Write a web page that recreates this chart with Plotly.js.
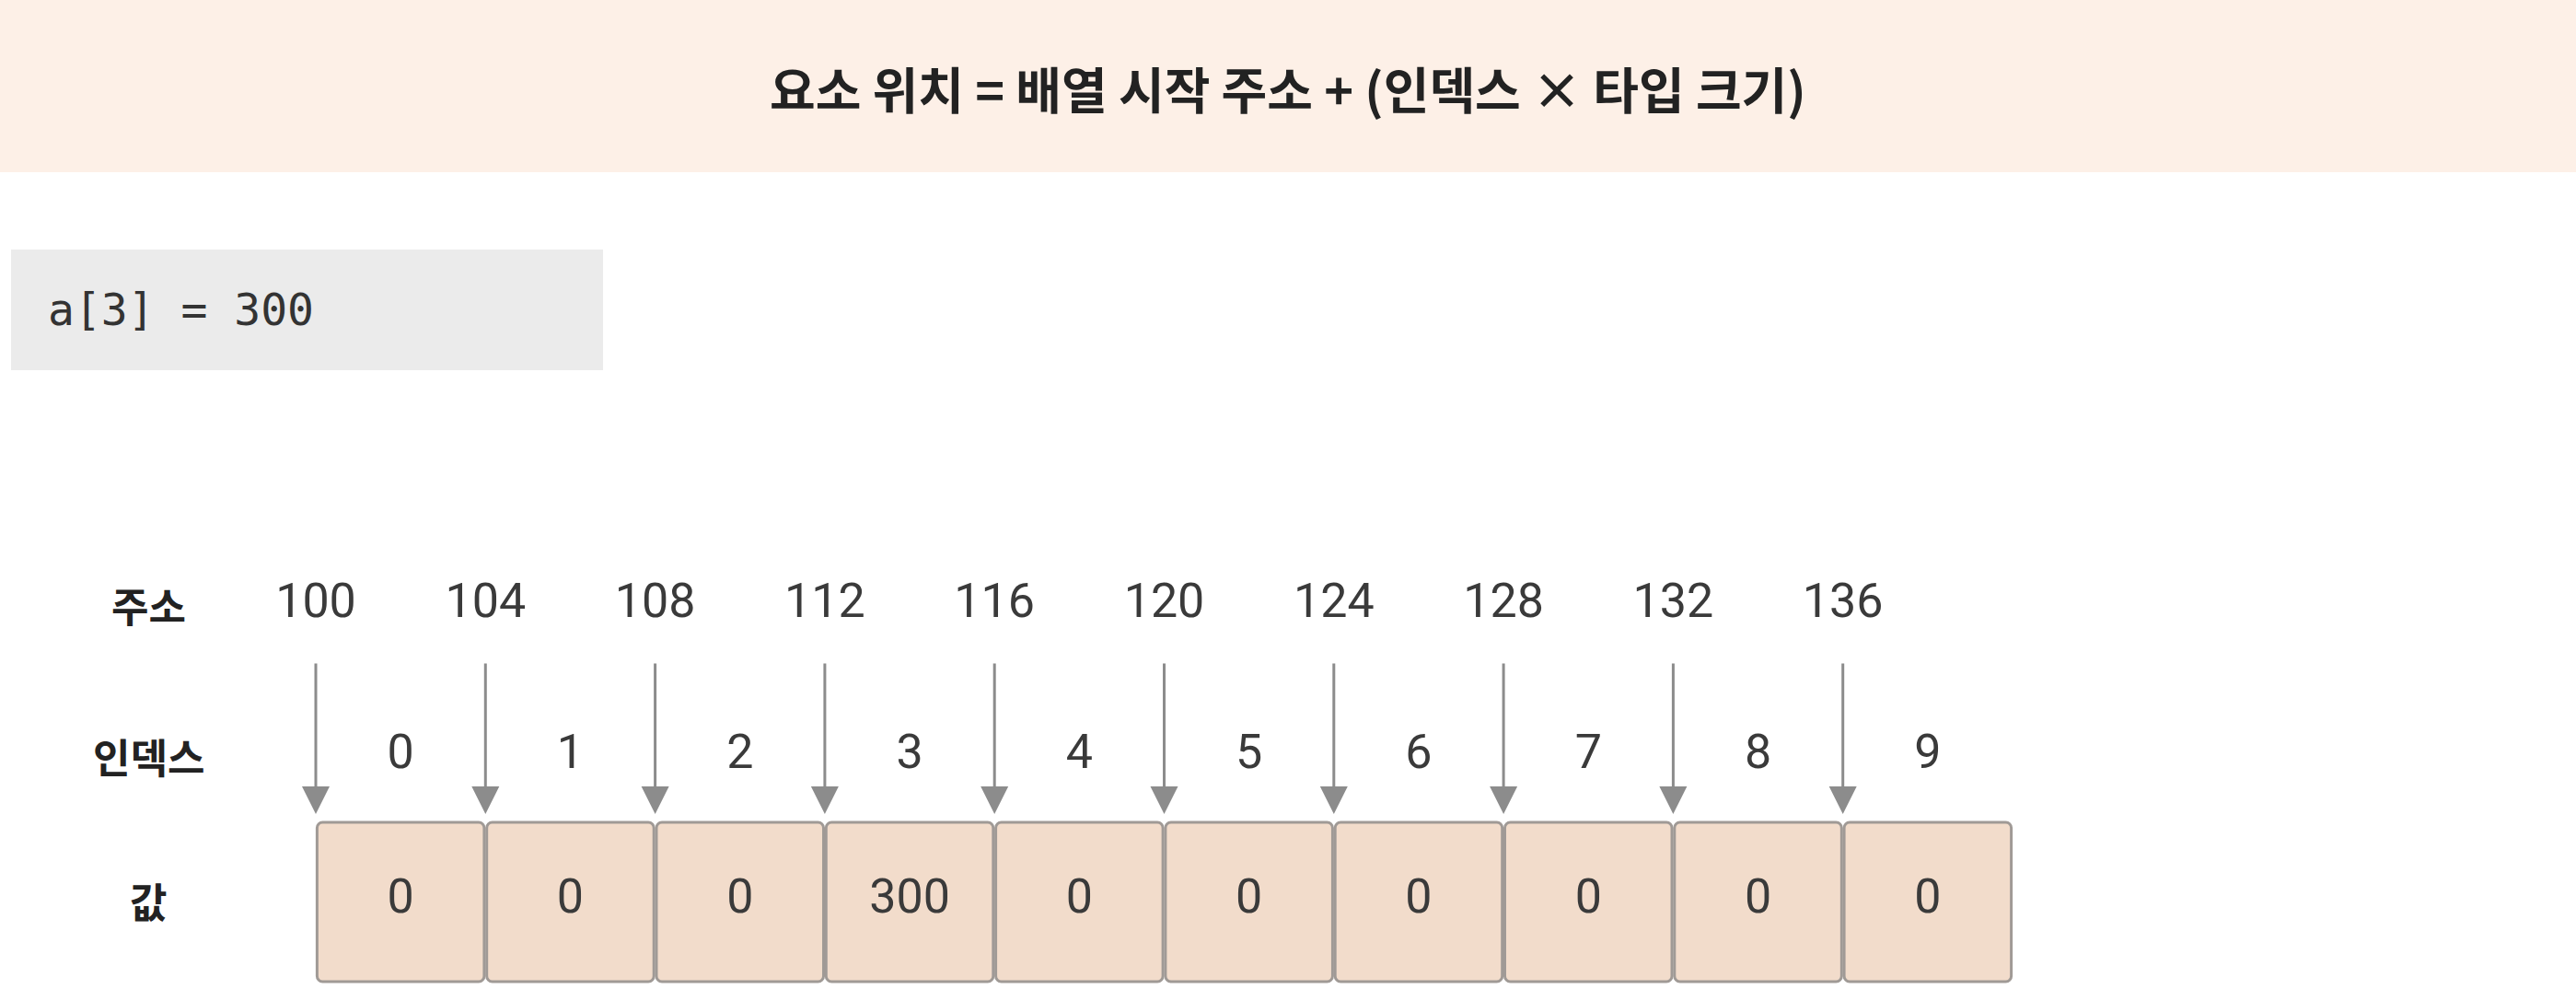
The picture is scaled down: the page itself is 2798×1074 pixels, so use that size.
<!DOCTYPE html>
<html>
<head>
<meta charset="utf-8">
<script src="https://cdn.plot.ly/plotly-3.0.1.min.js"></script>
<style>html,body{margin:0;padding:0;background:#fff}#chart{width:2798px;height:1074px}</style>
</head>
<body>
<div id="chart"></div>
<script>
const TITLE = "요소 위치 = 배열 시작 주소 + (인덱스 × 타입 크기)";
const CODE = "a[3] = 300";
const ROW_LABELS = ["주소", "인덱스", "값"];
const INDICES = [0, 1, 2, 3, 4, 5, 6, 7, 8, 9];
const ADDRESSES = [100, 104, 108, 112, 116, 120, 124, 128, 132, 136];
const VALUES = [0, 0, 0, 300, 0, 0, 0, 0, 0, 0];

// x axis in cell units, y axis in pixels (top down)
const X0 = 343, CELL = 184.3, W = 2798, H = 1074;
const Y_ADDR = 657, Y_IDX = 821, Y_VAL = 978;
const CELL_TOP = 893, CELL_H = 173;
const ARROW_TOP = 719, ARROW_BOT = 884;

const NUM_FONT = { family: "Roboto", size: 52, color: "#3a3a3a" };

const traces = [
  {
    type: "bar",
    x: INDICES.map(i => i + 0.5),
    y: INDICES.map(() => CELL_H),
    base: CELL_TOP,
    width: 0.985,
    marker: { color: "#f2dccb", line: { color: "#a09a96", width: 3 } },
    hoverinfo: "skip",
  },
  {
    type: "scatter", mode: "text",
    x: INDICES.map(i => i + 0.5),
    y: INDICES.map(() => Y_VAL),
    text: VALUES.map(String),
    textfont: NUM_FONT,
  },
  {
    type: "scatter", mode: "text",
    x: INDICES.map(i => i + 0.5),
    y: INDICES.map(() => Y_IDX),
    text: INDICES.map(String),
    textfont: NUM_FONT,
  },
  {
    type: "scatter", mode: "text",
    x: INDICES,
    y: INDICES.map(() => Y_ADDR),
    text: ADDRESSES.map(String),
    textfont: NUM_FONT,
  },
];

const arrows = ADDRESSES.map((a, i) => ({
  x: i, y: ARROW_BOT, ax: i, ay: ARROW_TOP,
  xref: "x", yref: "y", axref: "x", ayref: "y",
  showarrow: true, arrowhead: 2, arrowsize: 2, arrowwidth: 3,
  arrowcolor: "#8c8c8c", text: "",
}));

const rowY = [Y_ADDR, Y_IDX, Y_VAL];
const rowLabels = ROW_LABELS.map((t, k) => ({
  x: 161 / W, xref: "paper", xanchor: "center", y: rowY[k], yref: "y",
  text: "<b>" + t + "</b>", showarrow: false,
  font: { family: "Noto Sans CJK KR", size: 44, color: "#222" },
}));

const layout = {
  width: W, height: H,
  margin: { l: 0, r: 0, t: 0, b: 0 },
  paper_bgcolor: "#fff", plot_bgcolor: "#fff",
  showlegend: false,
  barcornerradius: 6,
  xaxis: { range: [-X0 / CELL, (W - X0) / CELL], visible: false, fixedrange: true },
  yaxis: { range: [H, 0], visible: false, fixedrange: true },
  shapes: [
    { type: "rect", xref: "paper", yref: "y", x0: 0, x1: 1, y0: 0, y1: 187,
      fillcolor: "#fdf0e7", line: { width: 0 }, layer: "below" },
    { type: "rect", xref: "paper", yref: "y", x0: 12 / W, x1: 655 / W, y0: 271, y1: 402,
      fillcolor: "#ebebeb", line: { width: 0 }, layer: "below" },
  ],
  annotations: [
    { x: 0.5, xref: "paper", xanchor: "center", y: 95, yref: "y", text: "<b>" + TITLE + "</b>", showarrow: false,
      font: { family: "Noto Sans CJK KR", size: 54, color: "#222" } },
    { x: 50 / W, xref: "paper", xanchor: "left", y: 336, yref: "y", text: CODE, showarrow: false,
      font: { family: "DejaVu Sans Mono", size: 48, color: "#333" } },
    ...rowLabels,
    ...arrows,
  ],
};

Plotly.newPlot("chart", traces, layout, { staticPlot: true });
</script>
</body>
</html>
